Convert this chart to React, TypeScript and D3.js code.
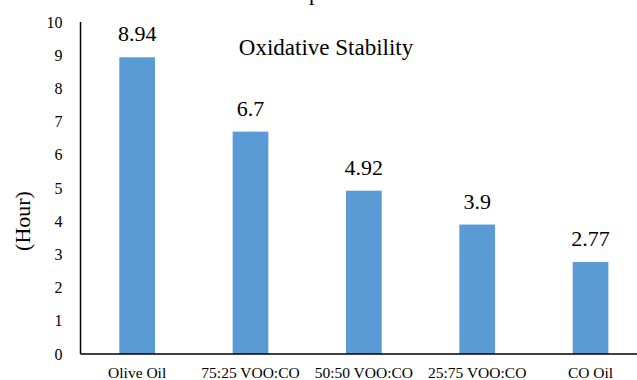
import React from "react";
import * as d3 from "d3";

const categories = ["Olive Oil", "75:25 VOO:CO", "50:50 VOO:CO", "25:75 VOO:CO", "CO Oil"];
const values = [8.94, 6.7, 4.92, 3.9, 2.77];
const valueLabels = ["8.94", "6.7", "4.92", "3.9", "2.77"];
const yTicks = [0, 1, 2, 3, 4, 5, 6, 7, 8, 9, 10];
const title = "Oxidative Stability";
const yTitle = "(Hour)";
const cutText = "the variance between the samples.";

const W = 637;
const H = 380;
const FONT = "Liberation Serif";

export default function App() {
  const x = d3
    .scaleBand<string>()
    .domain(categories)
    .range([80.5, 647.2])
    .paddingInner(0.685)
    .paddingOuter(0.3425);
  const y = d3.scaleLinear().domain([0, 10]).range([354, 22.1]);
  const ts = { fontFamily: FONT };

  return (
    <svg
      width={W}
      height={H}
      style={{ position: "absolute", left: 0, top: 0, background: "#fff", fontFamily: FONT }}
    >
      <rect x={0} y={0} width={W} height={H} fill="#fff" />
      <text x={350} y={0} textAnchor="end" fontSize={22} fill="#000" style={ts}>
        {cutText}
      </text>
      {categories.map((c, i) => (
        <rect
          key={c}
          x={x(c)}
          y={y(values[i])}
          width={x.bandwidth()}
          height={y(0) - y(values[i])}
          fill="#5B9BD5"
        />
      ))}
      <line x1={80.5} x2={W} y1={y(0)} y2={y(0)} stroke="#000" strokeWidth={1.5} />
      <line x1={80.5} x2={80.5} y1={y(10)} y2={y(0)} stroke="#000" strokeWidth={1.5} />
      {yTicks.map((t) => (
        <text
          key={t}
          x={62.5}
          y={y(t)}
          dy="0.35em"
          textAnchor="end"
          fontSize={16}
          fill="#000"
          style={ts}
        >
          {t}
        </text>
      ))}
      {categories.map((c) => (
        <text
          key={c}
          x={(x(c) as number) + x.bandwidth() / 2}
          y={378}
          textAnchor="middle"
          fontSize={15.5}
          fill="#000"
          style={ts}
        >
          {c}
        </text>
      ))}
      {categories.map((c, i) => (
        <text
          key={c}
          x={(x(c) as number) + x.bandwidth() / 2}
          y={y(values[i]) - 16}
          textAnchor="middle"
          fontSize={22}
          fill="#000"
          style={ts}
        >
          {valueLabels[i]}
        </text>
      ))}
      <text x={326} y={55} textAnchor="middle" fontSize={23} fill="#000" style={ts}>
        {title}
      </text>
      <text
        transform={`translate(29.5,221) rotate(-90)`}
        textAnchor="middle"
        fontSize={22}
        fill="#000"
        style={ts}
      >
        {yTitle}
      </text>
    </svg>
  );
}
